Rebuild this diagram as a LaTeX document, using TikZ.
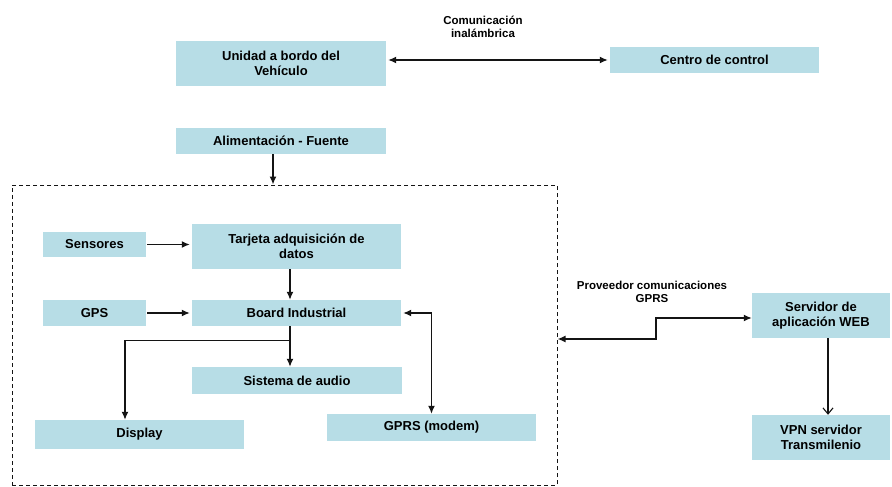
\documentclass[tikz,border=0pt]{standalone}
\usepackage{fontspec}
\setmainfont{Liberation Sans}
\usetikzlibrary{arrows.meta,calc}
\definecolor{boxfill}{RGB}{183,221,230}
\definecolor{linecol}{RGB}{20,20,20}
\tikzset{
  blk/.style={fill=boxfill, draw=none, align=center, inner sep=0pt,
    font=\fontsize{13}{15}\selectfont\bfseries, text=black},
  lbl/.style={align=center, inner sep=0pt, font=\fontsize{11.5}{12.5}\selectfont\bfseries},
  conn/.style={draw=linecol, line width=1.4pt},
  arr/.style={conn, -{Latex[length=8pt,width=7pt]}},
  darr/.style={conn, {Latex[length=8pt,width=7pt]}-{Latex[length=8pt,width=7pt]}},
  varr/.style={conn, line width=1.1pt, -{Straight Barb[length=6pt,width=10pt]}},
  unitbox/.style={draw=linecol, line width=1pt, dash pattern=on 4pt off 3pt, inner sep=0pt}
}
\begin{document}
\begin{tikzpicture}[x=1pt,y=-1pt]
\useasboundingbox (0,0) rectangle (892,487);
\fill[white] (0,0) rectangle (892,487);

\node[unitbox, minimum width=545pt, minimum height=300pt] (unit) at (284.5,335) {};

\node[blk, minimum width=210pt, minimum height=45pt] (unidad) at (281,63.5) {Unidad a bordo del\\Vehículo};
\node[blk, minimum width=209pt, minimum height=26pt] (centro) at (714.5,60) {Centro de control};
\node[blk, minimum width=210pt, minimum height=26pt] (alim) at (281,141) {Alimentación - Fuente};

\node[blk, minimum width=103pt, minimum height=25pt] (sens) at (94.5,244.5) {Sensores};
\node[blk, minimum width=209pt, minimum height=45pt] (tarj) at (296.5,246.5) {Tarjeta adquisición de\\datos};
\node[blk, minimum width=103pt, minimum height=26pt] (gps) at (94.5,313) {GPS};
\node[blk, minimum width=209pt, minimum height=26pt] (board) at (296.5,313) {Board Industrial};
\node[blk, minimum width=210pt, minimum height=27pt] (audio) at (297,380.5) {Sistema de audio};
\node[blk, minimum width=209pt, minimum height=29pt] (disp) at (139.5,434.5) {Display};
\node[blk, minimum width=209pt, minimum height=27pt] (gprs) at (431.5,427.5) {GPRS (modem)};

\node[blk, minimum width=138pt, minimum height=45pt] (serv) at (821,315.5) {Servidor de\\aplicación WEB};
\node[blk, minimum width=138pt, minimum height=45pt] (vpn) at (821,437.5) {VPN servidor\\Transmilenio};

\node[lbl] (lcom) at (483,27) {Comunicación\\inalámbrica};
\node[lbl] (lprov) at (652,292) {Proveedor comunicaciones\\GPRS};

% connectors
\draw[darr, shorten <=2pt, shorten >=2pt] (unidad.east |- centro.west) -- (centro.west);
\draw[arr] ([xshift=-8pt]alim.south) -- ([xshift=-8pt]alim.south |- unit.north);
\draw[arr, shorten <=1pt, shorten >=2pt] (sens.east) -- (sens.east -| tarj.west);
\draw[arr] ([xshift=-6.5pt]tarj.south) -- ([xshift=-6.5pt]tarj.south |- board.north);
\draw[arr, shorten <=1pt, shorten >=2pt] (gps.east) -- (board.west);
\draw[arr] ([xshift=-6.5pt]board.south) -- ([xshift=-6.5pt]board.south |- audio.north);
\coordinate (br) at ($([xshift=-6.5pt]board.south)+(0,14)$);
\draw[arr] (br) -| ([xshift=-14.5pt]disp.north);
\draw[darr, shorten <=2pt] (board.east) -| (gprs.north);
\coordinate (pbend) at (656,339);
\draw[darr] (unit.east |- pbend) -- (pbend) |- ([yshift=-2.5pt]serv.west);
\draw[varr] ([xshift=7pt]serv.south) -- ([xshift=7pt]serv.south |- vpn.north);
\end{tikzpicture}
\end{document}
